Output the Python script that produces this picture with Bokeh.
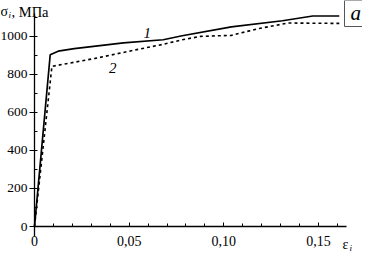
from bokeh.plotting import figure
from bokeh.models import Range1d, FixedTicker, Label
from bokeh.embed import file_html
from bokeh.resources import INLINE

# curve 1 (solid)
strain_1 = [0.0, 0.0083, 0.0125, 0.021, 0.047, 0.068, 0.078, 0.104, 0.131, 0.147, 0.161]
stress_1 = [0, 903, 922, 935, 966, 982, 1003, 1050, 1082, 1107, 1107]
# curve 2 (dotted)
strain_2 = [0.0, 0.0092, 0.032, 0.054, 0.068, 0.078, 0.088, 0.104, 0.118, 0.134, 0.161]
stress_2 = [0, 842, 884, 930, 958, 982, 1000, 1005, 1040, 1070, 1068]

x_ticks = [0.0, 0.05, 0.10, 0.15]
x_tick_labels = ["0", "0,05", "0,10", "0,15"]
x_minor = [0.01, 0.02, 0.03, 0.04, 0.06, 0.07, 0.08, 0.09, 0.11, 0.12, 0.13, 0.14, 0.16]
y_ticks = [0, 200, 400, 600, 800, 1000]
y_minor = [100, 300, 500, 700, 900, 1100]

FONT = "Liberation Serif"
W, H = 362, 252

p = figure(width=W, height=H, output_backend="svg", toolbar_location=None,
           x_range=Range1d(-0.01796, 0.17327), y_range=Range1d(-136.7, 1188.4),
           min_border=0)
p.outline_line_color = None
p.xgrid.visible = False
p.ygrid.visible = False

p.line(strain_1, stress_1, line_color="black", line_width=1.7)
p.line(strain_2, stress_2, line_color="black", line_width=1.6, line_dash="3 3")

xa = p.xaxis[0]
xa.fixed_location = 0
xa.bounds = (0, 0.165)
xa.ticker = FixedTicker(ticks=x_ticks, minor_ticks=x_minor)
xa.major_label_overrides = {t: l for t, l in zip(x_ticks, x_tick_labels)}
xa.major_tick_in = 4
xa.major_tick_out = 0
xa.minor_tick_in = 3
xa.minor_tick_out = 0
xa.major_label_standoff = 9
xa.axis_line_width = 1.3
xa.major_label_text_font = FONT
xa.major_label_text_font_size = "14px"
xa.major_label_text_color = "black"

ya = p.yaxis[0]
ya.fixed_location = 0
ya.bounds = (-55, 1120)
ya.ticker = FixedTicker(ticks=y_ticks, minor_ticks=y_minor)
ya.major_tick_in = 3
ya.major_tick_out = 5
ya.minor_tick_in = 3
ya.minor_tick_out = 0
ya.major_label_standoff = 2
ya.axis_line_width = 1.3
ya.major_label_text_font = FONT
ya.major_label_text_font_size = "13.5px"
ya.major_label_text_color = "black"

def lab(text, x, y, size="14px", style="normal", units="screen", align="left", baseline="alphabetic"):
    p.add_layout(Label(x=x, y=y, x_units=units, y_units=units, text=text,
                       text_font=FONT, text_font_size=size, text_font_style=style,
                       text_color="black", text_align=align, text_baseline=baseline))

# y-axis label
lab("σ", 0, H - 11)
lab("i", 8, H - 14, size="9px", style="italic")
lab(", МПа", 11, H - 11, size="14.5px")
# x-axis label
lab("ε", 342, 8)
lab("i", 349, 5, size="9px", style="italic")
# curve labels
lab("1", 0.0596, 1020, size="15px", style="italic", units="data", align="center", baseline="middle")
lab("2", 0.0413, 832, size="15px", style="italic", units="data", align="center", baseline="middle")

# panel letter
p.add_layout(Label(x=344, y=H - 26, x_units="screen", y_units="screen", text="a",
                   text_font=FONT, text_font_size="21px", text_font_style="italic",
                   text_color="black", text_align="left", text_baseline="bottom",
                   border_line_color="#555555", border_line_width=1,
                   background_fill_color="white",
                   padding=dict(left=6, right=12, top=0, bottom=2)))

open("out.html", "w").write(file_html(p, INLINE))
